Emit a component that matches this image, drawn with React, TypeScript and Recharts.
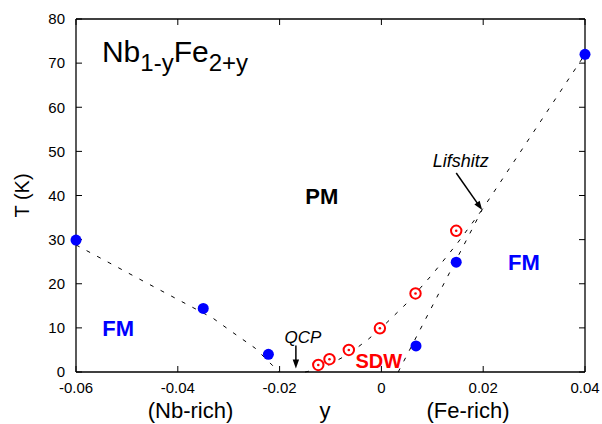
import React from 'react';
import { ScatterChart, Scatter, XAxis, YAxis, ReferenceDot, ReferenceLine } from 'recharts';

// ---- data ----
const xTicks = [-0.06, -0.04, -0.02, 0, 0.02, 0.04];
const yTicks = [0, 10, 20, 30, 40, 50, 60, 70, 80];

// ferromagnetic transition temperatures (filled blue)
const fmPoints = [
  { y: -0.06, T: 29.9 },
  { y: -0.035, T: 14.4 },
  { y: -0.0222, T: 4.0 },
  { y: 0.0068, T: 5.9 },
  { y: 0.0147, T: 24.9 },
  { y: 0.04, T: 72 },
];

// SDW transition temperatures (open red)
const sdwPoints = [
  { y: -0.0124, T: 1.6 },
  { y: -0.0102, T: 2.9 },
  { y: -0.0064, T: 5.0 },
  { y: -0.0003, T: 9.9 },
  { y: 0.0067, T: 17.8 },
  { y: 0.0147, T: 32.0 },
];

// dashed guide lines
const fmLeftLine = [
  { y: -0.06, T: 28.8 },
  { y: -0.0455, T: 19.8 },
  { y: -0.0331, T: 12.2 },
  { y: -0.029, T: 8.8 },
  { y: -0.0248, T: 5.4 },
  { y: -0.0201, T: 0 },
];
const fmRightLine = [
  { y: 0.0033, T: 0 },
  { y: 0.0198, T: 36.8 },
  { y: 0.04, T: 72 },
];
const sdwLine = [
  { y: -0.015, T: 0 },
  { y: -0.0125, T: 0.6 },
  { y: -0.01, T: 1.8 },
  { y: -0.0075, T: 3.4 },
  { y: -0.005, T: 5.3 },
  { y: -0.0025, T: 7.5 },
  { y: 0, T: 10 },
  { y: 0.005, T: 15.6 },
  { y: 0.01, T: 22.1 },
  { y: 0.015, T: 29.3 },
  { y: 0.0198, T: 36.8 },
];

const FONT = '"Liberation Sans", Arial, Helvetica, sans-serif';
const BLUE = '#0000ff';
const RED = '#ff0000';

// layout constants
const W = 602;
const H = 424;
const M_TOP = 19;
const M_RIGHT = 17;
const Y_W = 76;
const X_H = 52;
const PLOT_W = W - Y_W - M_RIGHT;
const PLOT_H = H - M_TOP - X_H;
const X_MARGIN = 16;
const Y_MARGIN = 17;
const TICK = 6;

const fmtX = (v: number) => (Math.abs(v) < 1e-9 ? '0' : v.toFixed(2));

const BlueDot = (p: any) => <circle cx={p.cx} cy={p.cy} r={5.5} fill={BLUE} />;
const RedRing = (p: any) => (
  <g>
    <circle cx={p.cx} cy={p.cy} r={5.2} fill="#fff" stroke={RED} strokeWidth={2} />
    <circle cx={p.cx} cy={p.cy} r={1.3} fill={RED} />
  </g>
);
const NoShape = () => <g />;

// bottom tick: label + mirrored inward tick on the top frame
const BottomTick = (p: any) => {
  const axisY = p.y - X_MARGIN + TICK;
  const top = axisY - PLOT_H;
  return (
    <g>
      <text x={p.x} y={p.y} dy="0.71em" textAnchor="middle" fontFamily={FONT} fontSize={15} fill="#000">
        {fmtX(p.payload.value)}
      </text>
      <line x1={p.x} y1={top} x2={p.x} y2={top + TICK} stroke="#000" strokeWidth={1} />
    </g>
  );
};

// left tick: label + mirrored inward tick on the right frame
const LeftTick = (p: any) => {
  const axisX = p.x + Y_MARGIN - TICK;
  const right = axisX + PLOT_W;
  return (
    <g>
      <text x={p.x} y={p.y} dy="0.355em" textAnchor="end" fontFamily={FONT} fontSize={15} fill="#000">
        {p.payload.value}
      </text>
      <line x1={right - TICK} y1={p.y} x2={right} y2={p.y} stroke="#000" strokeWidth={1} />
    </g>
  );
};

const Arrow = (p: any) => {
  const { x1, y1, x2, y2 } = p;
  const ang = Math.atan2(y2 - y1, x2 - x1);
  const L = 9;
  const Wd = 3.2;
  const bx = x2 - L * Math.cos(ang);
  const by = y2 - L * Math.sin(ang);
  const px = -Math.sin(ang) * Wd;
  const py = Math.cos(ang) * Wd;
  return (
    <g>
      <line x1={x1} y1={y1} x2={bx + Math.cos(ang) * 2} y2={by + Math.sin(ang) * 2} stroke="#000" strokeWidth={1.5} />
      <polygon points={`${x2},${y2} ${bx + px},${by + py} ${bx - px},${by - py}`} fill="#000" />
    </g>
  );
};

const txt = (value: string, style: any) => (props: any) => {
  const vb = props.viewBox;
  return (
    <text x={vb.x} y={vb.y} textAnchor="middle" fontFamily={FONT} {...style}>
      {value}
    </text>
  );
};

const Title = (props: any) => {
  const vb = props.viewBox;
  return (
    <text x={vb.x} y={vb.y} fontFamily={FONT} fontSize={30} fill="#000">
      Nb
      <tspan fontSize={24} dy={9}>1-y</tspan>
      <tspan fontSize={30} dy={-9}>Fe</tspan>
      <tspan fontSize={24} dy={9}>2+y</tspan>
    </text>
  );
};

// bottom axis labels, plus the top and right frame lines
const XLabels = (props: any) => {
  const vb = props.viewBox;
  const yb = vb.y + 46;
  const top = vb.y - PLOT_H;
  const right = vb.x + vb.width;
  const s = { fontFamily: FONT, fontSize: 22, fill: '#000', textAnchor: 'middle' as const };
  return (
    <g>
      <line x1={vb.x} y1={top} x2={right} y2={top} stroke="#000" strokeWidth={1.3} />
      <line x1={right} y1={top} x2={right} y2={vb.y} stroke="#000" strokeWidth={1.3} />
      <text x={vb.x + 0.225 * vb.width} y={yb} {...s}>(Nb-rich)</text>
      <text x={vb.x + 0.489 * vb.width} y={yb} {...s}>y</text>
      <text x={vb.x + 0.77 * vb.width} y={yb} {...s}>(Fe-rich)</text>
    </g>
  );
};

const YLabel = (props: any) => {
  const vb = props.viewBox;
  const cx = vb.x + 22;
  const cy = vb.y + vb.height / 2;
  return (
    <text
      x={cx}
      y={cy}
      transform={`rotate(-90, ${cx}, ${cy})`}
      textAnchor="middle"
      dominantBaseline="central"
      fontFamily={FONT}
      fontSize={20}
      fill="#000"
    >
      T (K)
    </text>
  );
};

export default function App() {
  const axisLine = { stroke: '#000', strokeWidth: 1.3 };
  const tickLine = { stroke: '#000', strokeWidth: 1 };
  const dash = { stroke: '#000', strokeWidth: 1, strokeDasharray: '4 8' };
  return (
    <div style={{ width: W, height: H }}>
      <style>{'html,body{margin:0;padding:0;overflow:hidden;background:#fff}'}</style>
      <ScatterChart width={W} height={H} margin={{ top: M_TOP, right: M_RIGHT, bottom: 0, left: 0 }}>
        <XAxis
          dataKey="y"
          type="number"
          domain={[-0.06, 0.04]}
          ticks={xTicks}
          tickSize={-TICK}
          tickMargin={X_MARGIN}
          tick={BottomTick}
          axisLine={axisLine}
          tickLine={tickLine}
          height={X_H}
          interval={0}
          label={XLabels}
        />
        <YAxis
          dataKey="T"
          type="number"
          domain={[0, 80]}
          ticks={yTicks}
          tickSize={-TICK}
          tickMargin={Y_MARGIN}
          tick={LeftTick}
          axisLine={axisLine}
          tickLine={tickLine}
          width={Y_W}
          interval={0}
          label={YLabel}
        />

        <Scatter data={fmLeftLine} line={dash} shape={NoShape} isAnimationActive={false} />
        <Scatter data={fmRightLine} line={dash} shape={NoShape} isAnimationActive={false} />
        <Scatter data={sdwLine} line={dash} shape={NoShape} isAnimationActive={false} />
        <Scatter data={sdwPoints} shape={RedRing} isAnimationActive={false} />
        <Scatter data={fmPoints} shape={BlueDot} isAnimationActive={false} />

        <ReferenceLine segment={[{ x: -0.0168, y: 6.0 }, { x: -0.0168, y: 0.8 }]} shape={Arrow} />
        <ReferenceLine segment={[{ x: 0.0147, y: 45.1 }, { x: 0.0198, y: 36.7 }]} shape={Arrow} />

        <ReferenceDot x={-0.0549} y={70.3} r={0} stroke="none" fill="none" label={Title} />
        <ReferenceDot x={-0.0117} y={38.1} r={0} stroke="none" fill="none"
          label={txt('PM', { fontSize: 22, fontWeight: 'bold', fill: '#000' })} />
        <ReferenceDot x={-0.0517} y={8.2} r={0} stroke="none" fill="none"
          label={txt('FM', { fontSize: 22, fontWeight: 'bold', fill: BLUE })} />
        <ReferenceDot x={0.028} y={23.1} r={0} stroke="none" fill="none"
          label={txt('FM', { fontSize: 22, fontWeight: 'bold', fill: BLUE })} />
        <ReferenceDot x={-0.0005} y={0.9} r={0} stroke="none" fill="none"
          label={txt('SDW', { fontSize: 20, fontWeight: 'bold', fill: RED })} />
        <ReferenceDot x={-0.0154} y={6.6} r={0} stroke="none" fill="none"
          label={txt('QCP', { fontSize: 17, fontStyle: 'italic', fill: '#000' })} />
        <ReferenceDot x={0.0156} y={46.5} r={0} stroke="none" fill="none"
          label={txt('Lifshitz', { fontSize: 18, fontStyle: 'italic', fill: '#000' })} />
      </ScatterChart>
    </div>
  );
}
